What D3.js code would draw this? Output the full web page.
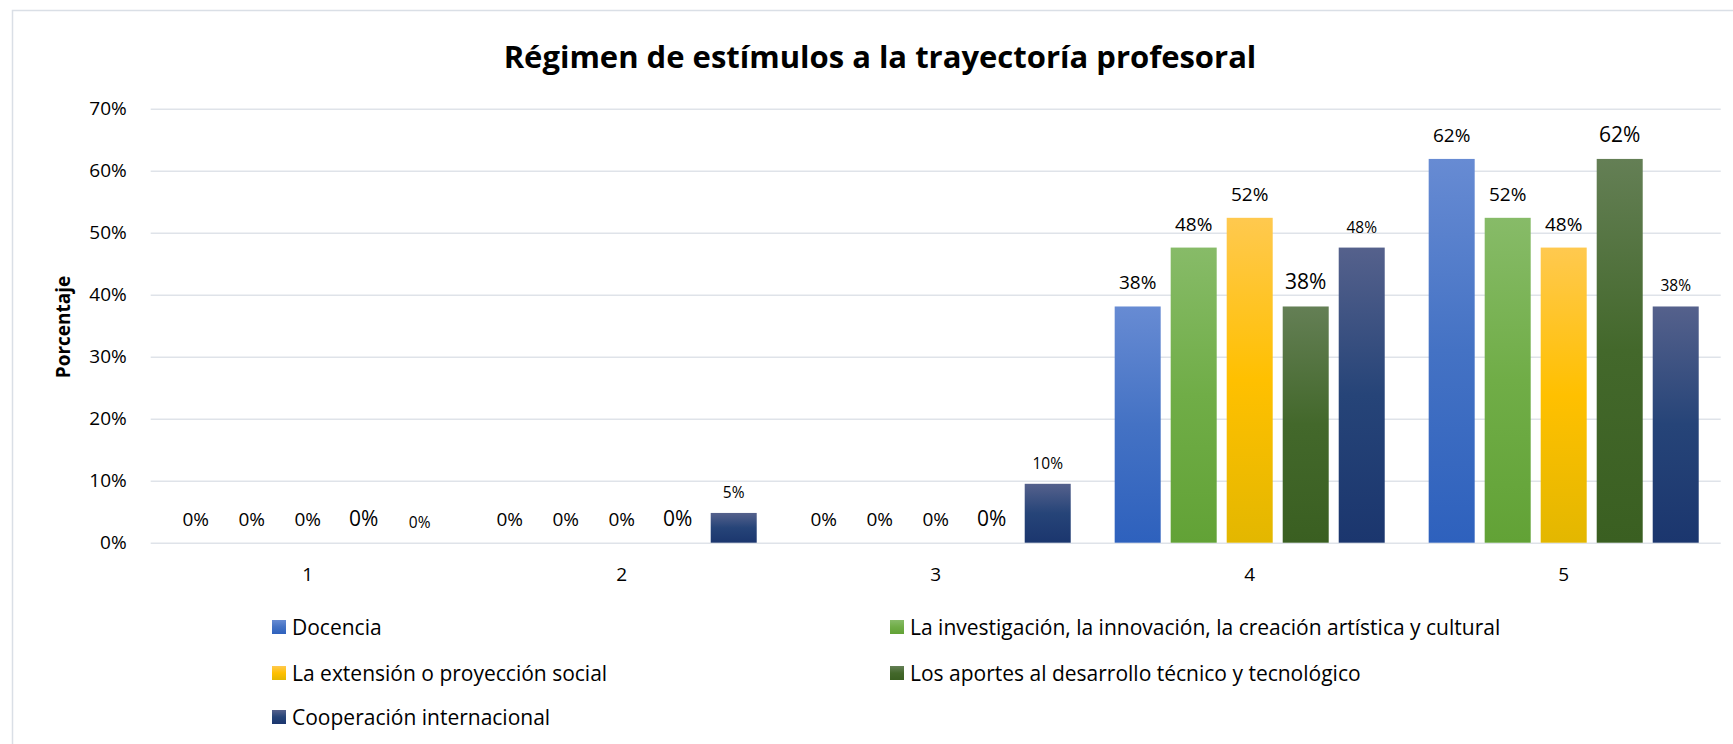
<!DOCTYPE html>
<head>
  <meta charset="utf-8">
  <script src="https://d3js.org/d3.v7.min.js"></script>
  <style>
    body { margin:0; background:#fff; }
    svg { display:block; }
    .txt { font-family: "Open Sans", "Noto Sans", sans-serif; fill:#000; }
    .tick text { font-family: "Open Sans", "Noto Sans", sans-serif; fill:#000; }
  </style>
</head>
<body>
<script>

  // Chart values
  var categories = ["1", "2", "3", "4", "5"];
  var seriesNames = ["Docencia",
                     "La investigación, la innovación, la creación artística y cultural",
                     "La extensión o proyección social",
                     "Los aportes al desarrollo técnico y tecnológico",
                     "Cooperación internacional"];
  var docencia      = [0, 0, 0, 38.1, 61.9];
  var investigacion = [0, 0, 0, 47.6, 52.4];
  var extension     = [0, 0, 0, 52.4, 47.6];
  var aportes       = [0, 0, 0, 38.1, 61.9];
  var cooperacion   = [0, 4.8, 9.5, 47.6, 38.1];
  var yTicks = [0, 10, 20, 30, 40, 50, 60, 70];

  var seriesValues = [docencia, investigacion, extension, aportes, cooperacion];

  // gradient stops per series: top, middle, bottom
  var gradColors = [
    ["#678bd3", "#4472c4", "#2e61bd"],
    ["#87bb68", "#70ad47", "#62a236"],
    ["#ffc94f", "#ffc000", "#e3b700"],
    ["#647f55", "#43682b", "#3a5f21"],
    ["#55618c", "#264478", "#1b366e"]
  ];
  // Excel gave each series' data labels its own size
  var labelSize = [19, 19, 19, 21, 15.5];

  var width = 1733, height = 744;
  var svg = d3.select("body").append("svg")
    .attr("width", width)
    .attr("height", height);

  var defs = svg.append("defs");
  gradColors.forEach(function(c, i) {
    var g = defs.append("linearGradient")
      .attr("id", "grad" + i)
      .attr("x1", 0).attr("y1", 0).attr("x2", 0).attr("y2", 1);
    g.append("stop").attr("offset", "0%").attr("stop-color", c[0]);
    g.append("stop").attr("offset", "50%").attr("stop-color", c[1]);
    g.append("stop").attr("offset", "100%").attr("stop-color", c[2]);
  });

  // chart area border
  svg.append("rect")
    .attr("x", 12.5).attr("y", 10.5)
    .attr("width", 1760).attr("height", 780)
    .attr("fill", "none")
    .attr("stroke", "#dadfe6")
    .attr("stroke-width", 1.5);

  var x0 = d3.scaleBand()
    .domain(categories)
    .range([150.7, 1720.7])
    .paddingInner(0.14)
    .paddingOuter(0.07);

  var x1 = d3.scaleBand()
    .domain(d3.range(seriesNames.length))
    .range([0, x0.bandwidth()])
    .paddingInner(0.1786);

  var y = d3.scaleLinear()
    .domain([0, 70])
    .range([542.7, 108.7]);

  // gridlines + y tick labels
  var yAxis = svg.append("g")
    .attr("transform", "translate(150.7,0)")
    .call(d3.axisLeft(y)
      .tickValues(yTicks)
      .tickSize(-1570)
      .tickPadding(24)
      .tickFormat(function(d) { return d + "%"; }));
  yAxis.select(".domain").remove();
  yAxis.selectAll(".tick line").attr("stroke", "#dfe3e9").attr("stroke-width", 1.5);
  yAxis.selectAll(".tick text").style("font-size", "19px");

  // category labels
  var xAxis = svg.append("g")
    .attr("transform", "translate(0,542.7)")
    .call(d3.axisBottom(x0).tickSize(0).tickPadding(25));
  xAxis.select(".domain").remove();
  xAxis.selectAll(".tick text").style("font-size", "19px");

  // bars
  var groups = svg.selectAll(".group")
    .data(categories)
    .enter()
    .append("g")
    .attr("class", "group")
    .attr("transform", function(d) { return "translate(" + x0(d) + ",0)"; });

  groups.selectAll("rect")
    .data(function(d, ci) {
      return seriesValues.map(function(vals, si) { return {s: si, v: vals[ci]}; });
    })
    .enter()
    .append("rect")
    .attr("x", function(d) { return x1(d.s); })
    .attr("y", function(d) { return y(d.v); })
    .attr("width", x1.bandwidth())
    .attr("height", function(d) { return y(0) - y(d.v); })
    .attr("fill", function(d) { return "url(#grad" + d.s + ")"; });

  groups.selectAll("text")
    .data(function(d, ci) {
      return seriesValues.map(function(vals, si) { return {s: si, v: vals[ci]}; });
    })
    .enter()
    .append("text")
    .attr("class", "txt")
    .attr("x", function(d) { return x1(d.s) + x1.bandwidth() / 2; })
    .attr("y", function(d) { return y(d.v) - (d.s == 4 ? 15 : 17); })
    .attr("text-anchor", "middle")
    .style("font-size", function(d) { return labelSize[d.s] + "px"; })
    .text(function(d) { return Math.round(d.v) + "%"; });

  // title
  svg.append("text")
    .attr("class", "txt")
    .attr("x", 880)
    .attr("y", 68)
    .attr("text-anchor", "middle")
    .style("font-size", "31px")
    .style("font-weight", "bold")
    .text("Régimen de estímulos a la trayectoría profesoral");

  // y axis title
  svg.append("text")
    .attr("class", "txt")
    .attr("transform", "translate(70,327) rotate(-90)")
    .attr("text-anchor", "middle")
    .style("font-size", "19px")
    .style("font-weight", "bold")
    .text("Porcentaje");

  // legend, two columns
  var legendPos = [[272, 620], [890, 620], [272, 666], [890, 666], [272, 710]];
  var legend = svg.selectAll(".legend")
    .data(seriesNames)
    .enter()
    .append("g")
    .attr("class", "legend")
    .attr("transform", function(d, i) { return "translate(" + legendPos[i][0] + "," + legendPos[i][1] + ")"; });

  legend.append("rect")
    .attr("width", 14)
    .attr("height", 14)
    .attr("fill", function(d, i) { return "url(#grad" + i + ")"; });

  legend.append("text")
    .attr("class", "txt")
    .attr("x", 20)
    .attr("y", 14.5)
    .style("font-size", "21px")
    .text(function(d) { return d; });

</script>
</body>
